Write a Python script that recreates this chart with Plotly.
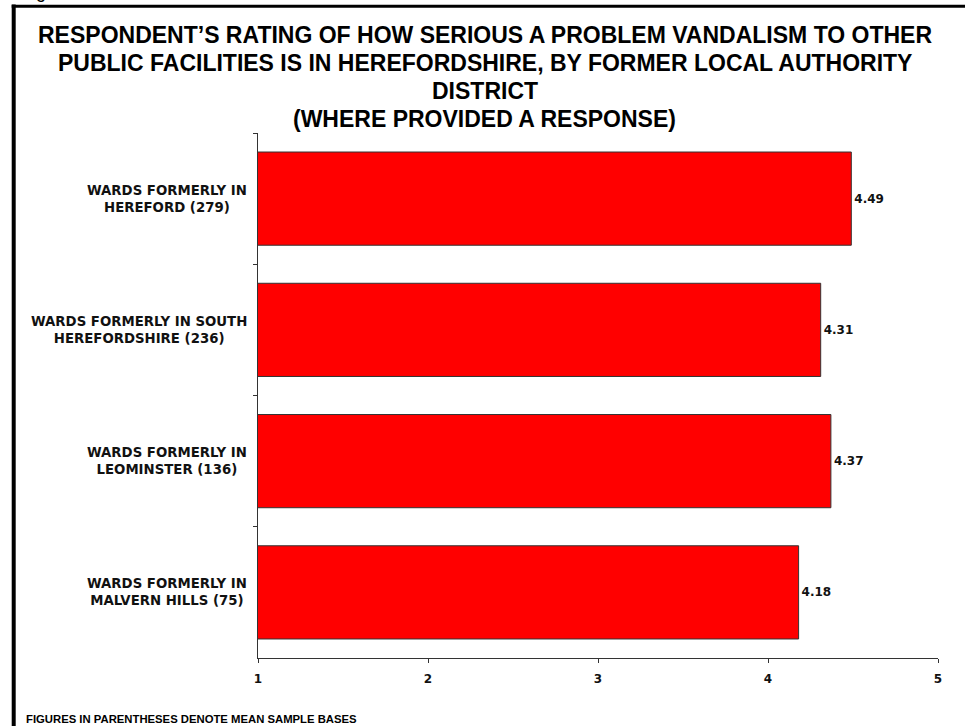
import plotly.graph_objects as go

categories = ["WARDS FORMERLY IN<br>HEREFORD (279)",
              "WARDS FORMERLY IN SOUTH<br>HEREFORDSHIRE (236)",
              "WARDS FORMERLY IN<br>LEOMINSTER (136)",
              "WARDS FORMERLY IN<br>MALVERN HILLS (75)"]
values = [4.49, 4.31, 4.37, 4.18]
x_ticks = [1, 2, 3, 4, 5]
title_lines = ["RESPONDENT\u2019S RATING OF HOW SERIOUS A PROBLEM VANDALISM TO OTHER",
               "PUBLIC FACILITIES IS IN HEREFORDSHIRE, BY FORMER LOCAL AUTHORITY",
               "DISTRICT",
               "(WHERE PROVIDED A RESPONSE)"]
footnote = "FIGURES IN PARENTHESES DENOTE MEAN SAMPLE BASES"

W, H = 965, 726
L, R, T, B = 258, 27, 133, 68
PW, PH = W - L - R, H - T - B


def px(x):
    return (x - L) / PW


def py(y):
    return (H - B - y) / PH


fig = go.Figure()
fig.add_trace(go.Bar(
    x=values, y=categories, orientation="h",
    marker=dict(color="#FF0000", line=dict(color="#333333", width=1)),
    width=0.71,
    text=[f"{v:.2f}" for v in values], textposition="outside",
    textfont=dict(family="DejaVu Sans", size=12, color="#111111", weight="bold"),
    cliponaxis=False, showlegend=False, hoverinfo="skip",
))

annotations = []
title_y = [35, 63, 91, 119]
for line, yc in zip(title_lines, title_y):
    annotations.append(dict(
        text=f"<b>{line}</b>", x=px(484.5), y=py(yc), xref="paper", yref="paper",
        xanchor="center", yanchor="middle", showarrow=False,
        font=dict(family="Liberation Sans, Arial", size=23, color="#000000")))

for cat in categories:
    annotations.append(dict(
        text=f"<b>{cat}</b>", x=px(249), y=cat, xref="paper", yref="y",
        xanchor="right", yanchor="middle", align="center", showarrow=False,
        font=dict(family="DejaVu Sans", size=13.3, color="#111111")))

annotations.append(dict(
    text=f"<b>{footnote}</b>", x=px(24), y=py(719), xref="paper", yref="paper",
    xanchor="left", yanchor="middle", showarrow=False,
    font=dict(family="Liberation Sans, Arial", size=11.3, color="#000000")))

annotations.append(dict(
    text="Figure", x=px(19), y=py(4), xref="paper", yref="paper",
    xanchor="left", yanchor="bottom", showarrow=False,
    font=dict(family="Liberation Sans, Arial", size=18, color="#000000")))

shapes = [
    dict(type="line", xref="paper", yref="paper", x0=px(13.7), x1=px(13.7),
         y0=py(4.5), y1=py(740), line=dict(color="#000000", width=4)),
    dict(type="line", xref="paper", yref="paper", x0=px(11.7), x1=px(980),
         y0=py(6.2), y1=py(6.2), line=dict(color="#000000", width=3)),
]

fig.update_layout(
    width=W, height=H,
    margin=dict(l=L, r=R, t=T, b=B),
    paper_bgcolor="white", plot_bgcolor="white",
    annotations=annotations, shapes=shapes,
    bargap=0.29,
    xaxis=dict(range=[1, 5], tickvals=x_ticks, ticktext=[str(t) for t in x_ticks],
               showgrid=False, zeroline=False, showline=True, linecolor="#333333",
               linewidth=1, ticks="outside", ticklen=4, tickcolor="#333333",
               ticklabelstandoff=6,
               tickfont=dict(family="DejaVu Sans", size=12, color="#111111", weight="bold")),
    yaxis=dict(type="category", autorange="reversed", showticklabels=False,
               showgrid=False, zeroline=False, showline=True, linecolor="#333333",
               linewidth=1, ticks="outside", ticklen=4, tickcolor="#333333",
               tickson="boundaries"),
)

fig.write_html("out.html")
